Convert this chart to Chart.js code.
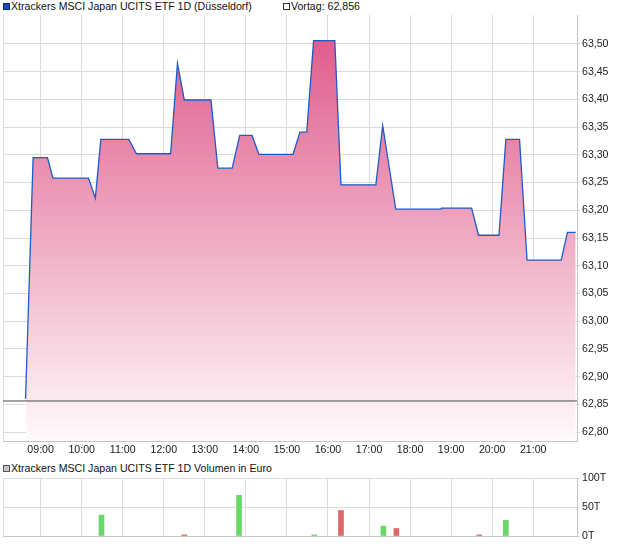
<!DOCTYPE html>
<html>
<head>
<meta charset="utf-8">
<script src="https://cdn.jsdelivr.net/npm/chart.js@4.4.0/dist/chart.umd.min.js"></script>
<style>
  html, body { margin: 0; padding: 0; background: #fff; }
  body { width: 620px; height: 546px; position: relative; overflow: hidden;
         font-family: "Liberation Sans", Arial, sans-serif; font-size: 10.6px; color: #111; }
  .lg { position: absolute; white-space: nowrap; line-height: 13px; }
  .box { position: absolute; width: 5px; height: 5px; border: 1px solid #333; }
  canvas { position: absolute; left: 0; }
</style>
</head>
<body>
<div class="box" style="left:3px;top:3px;background:#1a4db3;border-color:#0d2a6b"></div>
<div class="lg" style="left:11px;top:0px">Xtrackers MSCI Japan UCITS ETF 1D (Düsseldorf)</div>
<div class="box" style="left:283px;top:3px;background:#fff"></div>
<div class="lg" style="left:291px;top:0px">Vortag: 62,856</div>

<div class="box" style="left:3px;top:465px;background:#c4c4c4;border-color:#555"></div>
<div class="lg" style="left:11px;top:462px">Xtrackers MSCI Japan UCITS ETF 1D Volumen in Euro</div>

<canvas id="priceChart" width="620" height="460" style="top:0"></canvas>
<canvas id="volChart" width="620" height="86" style="top:460px"></canvas>

<script>
//Kursverlauf (Uhrzeit / Kurs)
const priceTimes = ['08:38', '08:49', '09:10', '09:18', '10:10', '10:20', '10:28', '11:09', '11:20',
  '12:10', '12:20', '12:30', '13:09', '13:19', '13:40', '13:51', '14:09', '14:19', '15:09', '15:19',
  '15:29', '15:39', '16:10', '16:19', '17:10', '17:20', '17:39', '18:45', '18:46', '19:30', '19:40',
  '20:10', '20:20', '20:40', '20:51', '21:41', '21:50', '22:02'];
const priceValues = [62.86, 63.295, 63.295, 63.258, 63.258, 63.222, 63.328, 63.328, 63.302,
  63.302, 63.465, 63.399, 63.399, 63.276, 63.276, 63.335, 63.335, 63.301, 63.301, 63.341,
  63.341, 63.506, 63.506, 63.246, 63.246, 63.353, 63.202, 63.202, 63.204, 63.204, 63.155,
  63.155, 63.328, 63.328, 63.11, 63.11, 63.16, 63.16];
const prevClose = 62.856;

//Umsätze (in Tausend Euro)
const volTimes = ['10:29', '12:30', '13:50', '15:40', '16:19', '17:21', '17:40', '19:41', '20:20'];
const volValues = [36, 2, 70, 2, 44, 17, 13, 2, 27];
const volUp = [true, false, true, true, false, true, false, false, true];

//Achsenbeschriftungen
const hourTicks = ['09:00', '10:00', '11:00', '12:00', '13:00', '14:00', '15:00',
  '16:00', '17:00', '18:00', '19:00', '20:00', '21:00'];
const priceTicks = [62.80, 62.85, 62.90, 62.95, 63.00, 63.05, 63.10, 63.15,
  63.20, 63.25, 63.30, 63.35, 63.40, 63.45, 63.50];
const volTicks = [0, 50, 100];

function toMin(s) {
  const [h, m] = s.split(':').map(Number);
  return h * 60 + m;
}
function fmtTime(v) {
  const h = Math.floor(v / 60), m = v % 60;
  return String(h).padStart(2, '0') + ':' + String(m).padStart(2, '0');
}

const X_MIN = toMin('08:05');
const X_MAX = toMin('22:04');
const GRID = '#dcdcdc';
const BORDER = '#c6c6c6';

Chart.defaults.font.family = '"Liberation Sans", Arial, sans-serif';
Chart.defaults.font.size = 10.6;
Chart.defaults.color = '#222';

//gemeinsame Zeitachse (linke Kante + volle Stunden)
function timeAxis(height, showLabels) {
  return {
    type: 'linear',
    min: X_MIN,
    max: X_MAX,
    offset: false,
    afterBuildTicks: s => {
      s.ticks = [X_MIN].concat(hourTicks.map(toMin)).map(v => ({ value: v }));
    },
    afterFit: s => { s.height = height; },
    grid: { color: GRID, drawTicks: false, offset: false },
    border: { color: BORDER },
    ticks: {
      display: showLabels,
      padding: 3,
      maxRotation: 0,
      autoSkip: false,
      callback: v => (v === X_MIN ? '' : fmtTime(v))
    }
  };
}

new Chart(document.getElementById('priceChart'), {
  type: 'line',
  data: {
    datasets: [
      {
        label: 'Vortag',
        data: [{ x: X_MIN, y: prevClose }, { x: X_MAX, y: prevClose }],
        borderColor: '#4a4a4a',
        borderWidth: 1,
        pointRadius: 0,
        fill: false,
        order: 0
      },
      {
        label: 'Kurs',
        data: priceTimes.map((t, i) => ({ x: toMin(t), y: priceValues[i] })),
        borderColor: '#1f5ac8',
        borderWidth: 1.3,
        pointRadius: 0,
        tension: 0,
        fill: 'start',
        order: 1,
        backgroundColor: ctx => {
          const area = ctx.chart.chartArea;
          if (!area) return 'rgba(230,130,165,0.6)';
          const g = ctx.chart.ctx.createLinearGradient(0, area.top, 0, area.bottom);
          g.addColorStop(0, 'rgb(222,84,133)');
          g.addColorStop(1, 'rgb(255,250,252)');
          return g;
        }
      }
    ]
  },
  options: {
    responsive: false,
    animation: false,
    layout: { padding: { left: 3, top: 15, right: 0, bottom: 0 } },
    plugins: { legend: { display: false }, tooltip: { enabled: false } },
    scales: {
      x: timeAxis(19, true),
      y: {
        position: 'right',
        min: 62.7838,
        max: 63.5523,
        afterBuildTicks: s => { s.ticks = priceTicks.map(v => ({ value: v })); },
        afterFit: s => { s.width = 43; },
        grid: { color: GRID, tickLength: 3 },
        border: { color: BORDER },
        ticks: { padding: 2, callback: v => v.toFixed(2).replace('.', ',') }
      }
    }
  }
});

new Chart(document.getElementById('volChart'), {
  type: 'bar',
  data: {
    datasets: [{
      label: 'Volumen',
      data: volTimes.map((t, i) => ({ x: toMin(t), y: volValues[i] })),
      backgroundColor: volUp.map(u => (u ? '#68d868' : '#dc6868')),
      barThickness: 5
    }]
  },
  options: {
    responsive: false,
    animation: false,
    layout: { padding: { left: 3, top: 18, right: 0, bottom: 0 } },
    plugins: { legend: { display: false }, tooltip: { enabled: false } },
    scales: {
      x: timeAxis(10, false),
      y: {
        position: 'right',
        min: 0,
        max: 100,
        afterBuildTicks: s => { s.ticks = volTicks.map(v => ({ value: v })); },
        afterFit: s => { s.width = 43; },
        grid: { color: GRID, tickLength: 3 },
        border: { color: BORDER },
        ticks: { padding: 2, callback: v => v + 'T' }
      }
    }
  }
});
</script>
</body>
</html>
